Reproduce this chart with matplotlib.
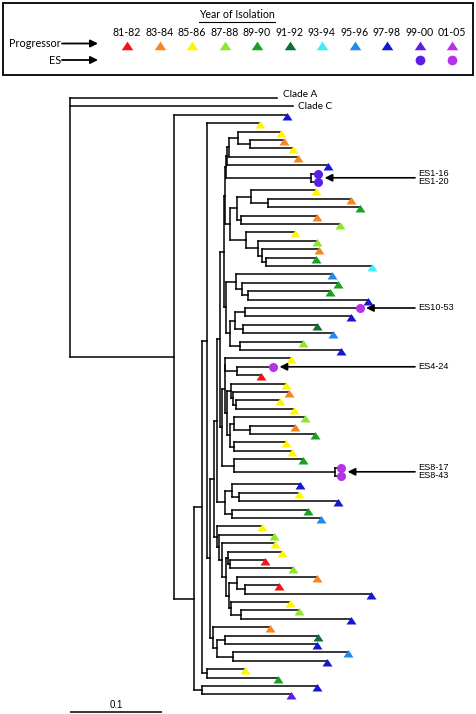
import matplotlib
matplotlib.use("Agg")
import matplotlib.pyplot as plt
from matplotlib.patches import Rectangle

# legend classes
periods = ["81-82", "83-84", "85-86", "87-88", "89-90", "91-92",
           "93-94", "95-96", "97-98", "99-00", "01-05"]
period_colors = ["#f01418", "#f7861e", "#fff500", "#8ce62a", "#16a31e", "#0e7038",
                 "#3cf0f5", "#2686f0", "#1616d6", "#5a1ee8", "#b432ea"]
es_periods = ["99-00", "01-05"]

# tree (branch lengths in substitutions/site)
sub_ga = "((((L3:0.046,(L4:0.037,L5:0.046):0.013):0.010,L6:0.075):0.002,L7:0.109):0.001,(L8:0.008,L9:0.008):0.092)"
sub_gb = ("(((L10:0.070,(L11:0.090,L12:0.100):0.018):0.016,(L13:0.082,L14:0.107):0.005):0.007,"
          "(L15:0.054,(L16:0.064,(L17:0.062,(L18:0.054,L19:0.115):0.004):0.005):0.013):0.017)")
sub_gc = "(L20:0.105,(L21:0.104,(L22:0.089,L23:0.130):0.007):0.007)"
sub_gd = "(((L24:0.125,L25:0.115):0.011,(L26:0.080,L27:0.098):0.009):0.005,(L28:0.068,L29:0.110):0.011)"
sub_ge = "(L30:0.071,(L31:0.040,L32:0.027):0.012)"
sub_gf = "(L33:0.060,(L34:0.061,(L35:0.048,L36:0.064):0.003):0.002)"
sub_gg = "((L37:0.077,(L38:0.049,L39:0.070):0.018):0.004,(L40:0.057,L41:0.063):0.004)"
sub_gh = "(L42:0.075,(L43:0.007,L44:0.007):0.110)"
sub_gi = "((L45:0.074,(L46:0.065,L47:0.107):0.008):0.008,(L48:0.083,L49:0.097):0.008)"
sub_gj = ("(L50:0.049,(L51:0.060,(L52:0.058,((L53:0.058,(L54:0.038,L55:0.068):0.002):0.002,"
          "((L56:0.087,(L57:0.037,L58:0.137):0.009):0.008,(L59:0.064,(L60:0.063,L61:0.119):0.011):0.002)"
          ":0.003):0.005):0.003):0.002)")
sub_gk = "(L62:0.062,((L63:0.101,L64:0.099):0.009,(L65:0.125,L66:0.102):0.017):0.005)"
sub_gl = "(L67:0.041,L68:0.077)"
sub_gm = "(L69:0.125,L70:0.096)"

# year class of each tip, top to bottom
leaf_years = ["97-98", "85-86", "85-86", "83-84", "85-86", "83-84", "97-98", "99-00", "99-00", "85-86",
              "83-84", "89-90", "83-84", "87-88", "85-86", "87-88", "83-84", "89-90", "93-94", "95-96",
              "89-90", "89-90", "97-98", "01-05", "97-98", "91-92", "95-96", "87-88", "97-98", "85-86",
              "01-05", "81-82", "85-86", "83-84", "85-86", "85-86", "87-88", "83-84", "89-90", "85-86",
              "85-86", "89-90", "01-05", "01-05", "97-98", "85-86", "97-98", "89-90", "95-96", "85-86",
              "87-88", "85-86", "85-86", "81-82", "87-88", "83-84", "81-82", "97-98", "85-86", "87-88",
              "97-98", "83-84", "91-92", "97-98", "95-96", "97-98", "85-86", "89-90", "97-98", "99-00"]
# ES isolates (circles) and their labels
es_labels = {"L8": "ES1-16", "L9": "ES1-20", "L24": "ES10-53", "L31": "ES4-24",
             "L43": "ES8-17", "L44": "ES8-43"}
es_groups = [["L8", "L9"], ["L24"], ["L31"], ["L43", "L44"]]
clade_names = {"CladeA": "Clade A", "CladeC": "Clade C"}

gab = f"({sub_ga}:0.001,{sub_gb}:0.005)"
gcd = f"({sub_gc}:0.010,{sub_gd}:0.004)"
upper = f"({gab}:0.002,{gcd}:0.003)"
middle = f"(({sub_ge}:0.001,({sub_gf}:0.004,{sub_gg}:0.003):0.003):0.003,{sub_gh}:0.013)"
q = f"(({upper}:0.004,{middle}:0.002):0.003,{sub_gi}:0.008)"
b = f"(({q}:0.003,{sub_gj}:0.003):0.005,{sub_gk}:0.003)"
n2 = f"((L2:0.058,{b}:0.003):0.005,{sub_gl}:0.005)"
newick = f"(CladeA:0.225,CladeC:0.242,(L1:0.123,({n2}:0.009,{sub_gm}:0.009):0.022):0.113);"


def parse_newick(s):
    s = s.strip().rstrip(";")
    pos = 0

    def node():
        nonlocal pos
        children = []
        if s[pos] == "(":
            pos += 1
            while True:
                children.append(node())
                if s[pos] == ",":
                    pos += 1
                    continue
                pos += 1
                break
        start = pos
        while pos < len(s) and s[pos] not in ",():":
            pos += 1
        name = s[start:pos]
        length = 0.0
        if pos < len(s) and s[pos] == ":":
            pos += 1
            start = pos
            while pos < len(s) and s[pos] not in ",()":
                pos += 1
            length = float(s[start:pos])
        return {"name": name, "len": length, "children": children}

    return node()


def layout(nd, x0, leaves):
    nd["x"] = x0 + nd["len"]
    if not nd["children"]:
        nd["y"] = len(leaves)
        leaves.append(nd)
    else:
        for c in nd["children"]:
            layout(c, nd["x"], leaves)
        nd["y"] = (nd["children"][0]["y"] + nd["children"][-1]["y"]) / 2


def draw(ax, nd):
    kw = dict(color="black", lw=1.1, solid_capstyle="projecting", zorder=1)
    for c in nd["children"]:
        ax.plot([nd["x"], c["x"]], [c["y"], c["y"]], **kw)
        draw(ax, c)
    if nd["children"]:
        ax.plot([nd["x"], nd["x"]], [nd["children"][0]["y"], nd["children"][-1]["y"]], **kw)


tree = parse_newick(newick)
leaves = []
layout(tree, 0.0, leaves)
by_name = {lf["name"]: lf for lf in leaves}

W, H = 476, 714
fig = plt.figure(figsize=(W / 100, H / 100), dpi=100)
fig.patch.set_facecolor("white")

# tree axes: 0.1 subst = 92 px, root at x=70px, tips 8.4 px apart from y=98px
ax = fig.add_axes([0, 0, 1, 1])
ax.set_xlim(-70 / 920, (W - 70) / 920)
ax.set_ylim((H - 98) / 8.4, -98 / 8.4)
ax.axis("off")

draw(ax, tree)

tri = [(0, 0.5), (-1, -1), (1, -1), (0, 0.5)]
tips = [lf for lf in leaves if lf["name"].startswith("L")]
for lf, yr in zip(tips, leaf_years):
    col = period_colors[periods.index(yr)]
    if lf["name"] in es_labels:
        ax.plot(lf["x"], lf["y"], "o", ms=6.5, color=col, mew=0, zorder=3)
    else:
        ax.plot(lf["x"], lf["y"], marker=tri, ms=7.2, color=col, mew=0, zorder=3)

for (key, label), dy in zip(clade_names.items(), [2.2, -0.3]):
    lf = by_name[key]
    ax.annotate(label, (lf["x"], lf["y"]), xytext=(4, dy), textcoords="offset points",
                va="center", ha="left", fontsize=7.2, family="Lato")

tail_x = (415 - 70) / 920
for grp in es_groups:
    ys = [by_name[n]["y"] for n in grp]
    xs = [by_name[n]["x"] for n in grp]
    ym = sum(ys) / len(ys)
    ax.annotate("", xy=(max(xs), ym), xytext=(tail_x, ym),
                arrowprops=dict(arrowstyle="-|>", color="black", lw=1.2,
                                mutation_scale=11, shrinkA=0, shrinkB=4.5))
    for n, yy in zip(grp, ys):
        off = 0 if len(grp) == 1 else (yy - ym) * 0.95
        ax.text(tail_x + 3 / 920, ym + off, es_labels[n], va="center", ha="left",
                fontsize=6.6, family="Liberation Sans")

# scale bar
bar_y = (712 - 98) / 8.4
ax.plot([0, 0.1], [bar_y, bar_y], color="black", lw=1.1, solid_capstyle="butt")
ax.text(0.05, bar_y - 0.2, "0.1", ha="center", va="bottom", fontsize=7, family="Liberation Sans")

# legend panel in pixel coordinates
lax = fig.add_axes([0, 0, 1, 1])
lax.set_xlim(0, W)
lax.set_ylim(H, 0)
lax.axis("off")
lax.patch.set_alpha(0)

lax.add_patch(Rectangle((2.5, 2.5), 470.5, 72.5, fill=False, ec="black", lw=1.3))
lax.text(237, 15, "Year of Isolation", ha="center", va="center", fontsize=7.6, family="Lato")
lax.plot([199, 275], [21.5, 21.5], color="black", lw=0.8)

for i, (p, col) in enumerate(zip(periods, period_colors)):
    px = 127 + i * 32.5
    lax.text(px, 33, p, ha="center", va="center", fontsize=7.6, family="Lato")
    lax.plot(px, 44, marker=tri, ms=8.3, color=col, mew=0)
    if p in es_periods:
        lax.plot(px, 60, "o", ms=7, color=col, mew=0)

for label, yy in [("Progressor", 43.5), ("ES", 60)]:
    lax.text(61, yy, label, ha="right", va="center", fontsize=7.8, family="Lato")
    lax.annotate("", xy=(98, yy), xytext=(62, yy),
                 arrowprops=dict(arrowstyle="-|>", color="black", lw=1.3,
                                 mutation_scale=11, shrinkA=0, shrinkB=0))

fig.savefig("out.png", dpi=100)
